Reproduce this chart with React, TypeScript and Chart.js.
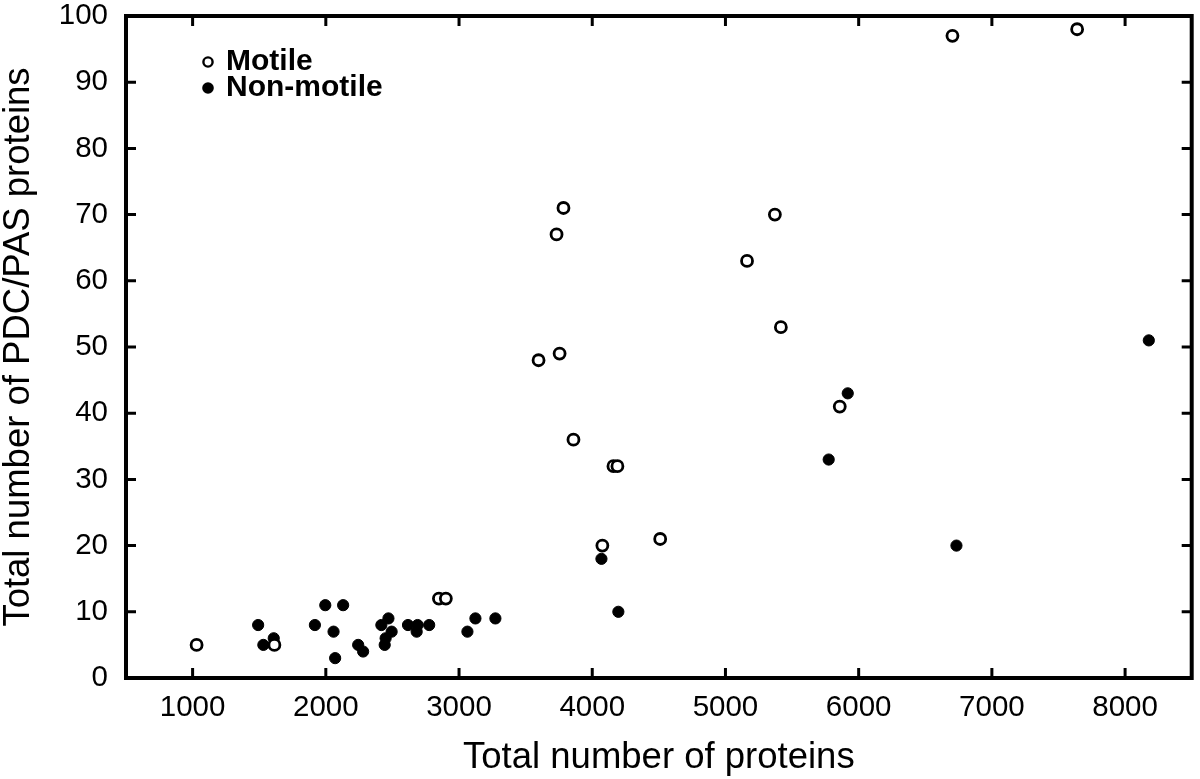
import React, { useEffect, useRef } from "react";
import { Chart, registerables } from "chart.js";

Chart.register(...registerables);

const xTickValues = [1000, 2000, 3000, 4000, 5000, 6000, 7000, 8000];
const yTickValues = [0, 10, 20, 30, 40, 50, 60, 70, 80, 90, 100];

const motileX = [1030, 1614, 2849, 2901, 3597, 3755, 3732, 3784, 3859, 4159, 4189, 4076, 4510, 5162, 5371, 5416, 5858, 6704, 7640];
const motileY = [5, 5, 12, 12, 48, 49, 67, 71, 36, 32, 32, 20, 21, 63, 70, 53, 41, 97, 98];

const nonMotileX = [1492, 1531, 1609, 1918, 1996, 2130, 2058, 2070, 2243, 2280, 2417, 2470, 2494, 2449, 2442, 2617, 2689, 2682, 2776, 3063, 3123, 3273, 4069, 4196, 5775, 5918, 6734, 8178];
const nonMotileY = [8, 5, 6, 8, 11, 11, 7, 3, 5, 4, 8, 9, 7, 6, 5, 8, 8, 7, 8, 7, 9, 9, 18, 10, 33, 43, 20, 51];

const legendLabels = ["Motile", "Non-motile"];
const xTitle = "Total number of proteins";
const yTitle = "Total number of PDC/PAS proteins";

const FONT = "'Liberation Sans', Arial, Helvetica, sans-serif";

const framePlugin = {
  id: "frame",
  beforeDatasetsDraw(chart: any) {
    const { ctx, chartArea } = chart;
    const { left, right, top, bottom } = chartArea;
    const xs = chart.scales.x;
    const ys = chart.scales.y;
    ctx.save();
    ctx.strokeStyle = "#000";
    ctx.lineCap = "butt";
    ctx.lineWidth = 3;
    const tl = 10;
    ctx.beginPath();
    xTickValues.forEach((v) => {
      const px = xs.getPixelForValue(v);
      ctx.moveTo(px, bottom);
      ctx.lineTo(px, bottom - tl);
      ctx.moveTo(px, top);
      ctx.lineTo(px, top + tl);
    });
    yTickValues.forEach((v) => {
      const py = ys.getPixelForValue(v);
      ctx.moveTo(left, py);
      ctx.lineTo(left + tl, py);
      ctx.moveTo(right, py);
      ctx.lineTo(right - tl, py);
    });
    ctx.stroke();
    ctx.lineWidth = 4;
    ctx.strokeRect(left, top, right - left, bottom - top);
    ctx.restore();
  },
  afterDraw(chart: any) {
    const { ctx, chartArea } = chart;
    const mx = chartArea.left + 82;
    const rows = [chartArea.top + 46, chartArea.top + 72];
    ctx.save();
    ctx.font = `bold 30px ${FONT}`;
    ctx.textBaseline = "middle";
    ctx.textAlign = "left";
    // open marker
    ctx.beginPath();
    ctx.arc(mx, rows[0], 4.6, 0, Math.PI * 2);
    ctx.fillStyle = "#fff";
    ctx.fill();
    ctx.lineWidth = 2.4;
    ctx.strokeStyle = "#000";
    ctx.stroke();
    // filled marker
    ctx.beginPath();
    ctx.arc(mx, rows[1], 5.8, 0, Math.PI * 2);
    ctx.fillStyle = "#000";
    ctx.fill();
    ctx.fillText(legendLabels[0], mx + 18, rows[0]);
    ctx.fillText(legendLabels[1], mx + 18, rows[1]);
    ctx.restore();
  },
};

export default function App() {
  const canvasRef = useRef<HTMLCanvasElement | null>(null);

  useEffect(() => {
    if (!canvasRef.current) return;
    const chart = new Chart(canvasRef.current, {
      type: "scatter",
      data: {
        datasets: [
          {
            label: legendLabels[0],
            data: motileX.map((x, i) => ({ x, y: motileY[i] })),
            pointStyle: "circle",
            pointRadius: 5.5,
            pointBorderWidth: 2.8,
            pointBackgroundColor: "#fff",
            pointBorderColor: "#000",
          },
          {
            label: legendLabels[1],
            data: nonMotileX.map((x, i) => ({ x, y: nonMotileY[i] })),
            pointStyle: "circle",
            pointRadius: 5.6,
            pointBorderWidth: 1,
            pointBackgroundColor: "#000",
            pointBorderColor: "#000",
          },
        ],
      },
      options: {
        animation: false,
        responsive: true,
        maintainAspectRatio: false,
        layout: { padding: { top: 16, right: 3, left: 0, bottom: 0 } },
        plugins: {
          legend: { display: false },
          tooltip: { enabled: false },
        },
        scales: {
          x: {
            type: "linear",
            position: "bottom",
            min: 500,
            max: 8500,
            grid: { display: false, drawTicks: false },
            border: { display: false },
            afterBuildTicks: (s: any) => {
              s.ticks = xTickValues.map((v) => ({ value: v }));
            },
            afterFit: (s: any) => {
              s.height = 101;
              s.paddingLeft = 0;
              s.paddingRight = 0;
            },
            ticks: {
              color: "#000",
              font: { family: FONT, size: 29.5 },
              padding: 12,
              maxRotation: 0,
              autoSkip: false,
              callback: (v: any) => String(v),
            },
            title: {
              display: true,
              text: xTitle,
              color: "#000",
              font: { family: FONT, size: 36.5 },
              padding: { top: 0, bottom: -1 },
            },
          },
          y: {
            type: "linear",
            min: 0,
            max: 100,
            grid: { display: false, drawTicks: false },
            border: { display: false },
            afterBuildTicks: (s: any) => {
              s.ticks = yTickValues.map((v) => ({ value: v }));
            },
            afterFit: (s: any) => {
              s.width = 126;
              s.paddingTop = 0;
              s.paddingBottom = 0;
            },
            ticks: {
              color: "#000",
              font: { family: FONT, size: 29.5 },
              padding: 18,
              callback: (v: any) => String(v),
            },
            title: {
              display: true,
              text: yTitle,
              color: "#000",
              font: { family: FONT, size: 36.5 },
              padding: { top: -3, bottom: 0 },
            },
          },
        },
      },
      plugins: [framePlugin],
    });
    return () => chart.destroy();
  }, []);

  return (
    <div style={{ position: "fixed", left: 0, top: 0, width: 1200, height: 779, background: "#fff" }}>
      <canvas ref={canvasRef} />
    </div>
  );
}
